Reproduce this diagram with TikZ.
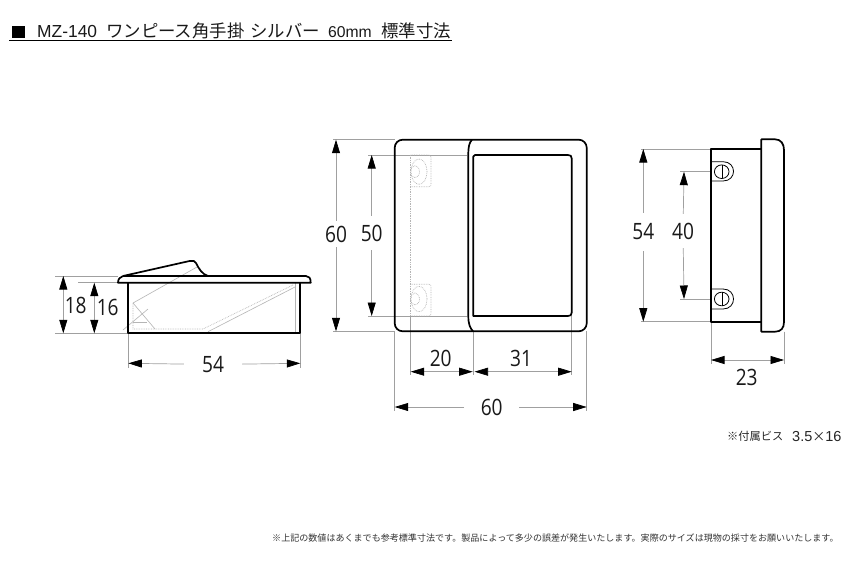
\documentclass[tikz,border=0pt]{standalone}
\usepackage{fontspec}
\usetikzlibrary{arrows.meta}
\newfontfamily\jpfont{Noto Sans CJK JP}
\newfontfamily\latinfont{Liberation Sans}
\newfontfamily\dimfont[FakeStretch=0.85]{Open Sans}
\definecolor{extgray}{HTML}{A0A0A0}
\definecolor{hidgray}{HTML}{B5B5B5}
\tikzset{
  outline/.style={draw=black,line width=1.7pt,line join=round},
  thinout/.style={draw=black,line width=0.8pt},
  extline/.style={draw=extgray,line width=0.7pt},
  hidline/.style={draw=hidgray,line width=0.7pt,densely dotted},
  hidthin/.style={draw=hidgray,line width=0.6pt},
  dimarrow/.style={draw=extgray,line width=0.7pt,
    -{Triangle[length=13.5pt,width=8pt,color=black]}},
  dimboth/.style={draw=extgray,line width=0.7pt,
    {Triangle[length=13.5pt,width=8pt,color=black]}-{Triangle[length=13.5pt,width=8pt,color=black]}},
  dimlabel/.style={inner sep=0pt,text=black!90,font=\dimfont\fontsize{22.5}{22.5}\selectfont},
  heading/.style={inner sep=0pt,anchor=base west,text=black!90,font=\jpfont\fontsize{17.4}{18}\selectfont},
}
\begin{document}
\begin{tikzpicture}[x=1pt,y=-1pt]
\useasboundingbox[fill=white] (0,0) rectangle (850,567);

% ---------- heading
\fill[black] (12,26.5) rectangle (25,38.5);
\node[heading] (tA) at (37,37.5) {\latinfont MZ-140};
\node[heading] (tB) at (106,37.5) {ワンピース角手掛};
\node[heading] (tC) at (250,37.5) {シルバー};
\node[heading] (tD) at (328,37.5) {\latinfont\fontsize{15.7}{16}\selectfont 60mm};
\node[heading] (tE) at (381,37.5) {標準寸法};
\draw[black,line width=1pt] (9,40.5) -- (452,40.5);

% ---------- side view: hidden lines
\draw[hidline] (133,303) -- (133,329) -- (203,329) -- (293,285);
\draw[hidthin] (208,331.7) -- (295,287);
\draw[hidthin] (133,303) -- (197,267);
\draw[hidthin] (133,303) -- (155,329);
\draw[hidthin] (123,330) -- (148,309);
\draw[hidthin] (133,322) -- (147,322);
\draw[hidthin] (295,283) -- (295,333);

% side view: dimensions
\coordinate (a18t) at (63.3,276);
\coordinate (a18b) at (63.3,333.3);
\coordinate (a16t) at (94.3,282.7);
\coordinate (a16b) at (94.3,333.3);
\coordinate (a54l) at (128.3,363.3);
\coordinate (a54r) at (300.3,363.3);
\draw[extline] (55,276) -- (118,276);
\draw[extline] (78,282.7) -- (118,282.7);
\draw[extline] (55,333.3) -- (128.3,333.3);
\draw[extline] (128.3,333.3) -- (128.3,368);
\draw[extline] (300.3,333.3) -- (300.3,368);
\draw[dimboth] (a18t) -- (a18b);
\draw[dimboth] (a16t) -- (a16b);
\node[dimlabel] (l18) at (75.7,305) {18};
\node[dimlabel] (l16) at (107.7,307.5) {16};
\node[dimlabel,minimum width=58pt] (l54) at (213,364.5) {54};
\draw[dimarrow] (l54) -- (a54l);
\draw[dimarrow] (l54) -- (a54r);

% side view: outline
\draw[outline] (128.3,282.7) -- (128.3,333.3) -- (300.3,333.3) -- (300.3,282.7);
\draw[outline] (123,276) -- (306,276) .. controls (309,276) and (310.7,278) .. (310.7,282.7)
  -- (118,282.7) .. controls (118,279) and (120,277) .. (123,276);
\draw[outline] (123,276) -- (190,260.9) .. controls (193,260.2) and (195,261) .. (196,263)
  .. controls (199,269) and (202,274) .. (208,276);

% ---------- front view: hidden lines
\draw[extline] (368,155) -- (467,155);
\draw[extline] (368,316) -- (467,316);
\draw[hidline] (410.7,155) -- (410.7,316);
\draw[hidline,rounded corners=2pt] (410.7,155) -- (431,155) -- (431,186.7) -- (410.7,186.7);
\draw[hidline,rounded corners=2pt] (410.7,284.3) -- (431,284.3) -- (431,316) -- (410.7,316);
\draw[hidline] (419,171.7) ellipse [x radius=8,y radius=12.7];
\draw[hidline] (415,171.7) ellipse [x radius=4.5,y radius=6];
\draw[hidline] (419,299) ellipse [x radius=8,y radius=12.7];
\draw[hidline] (415,299) ellipse [x radius=4.5,y radius=6];

% front view: dimensions
\coordinate (b60t) at (336,139.7);
\coordinate (b60b) at (336,331.3);
\coordinate (b50t) at (371.7,155);
\coordinate (b50b) at (371.7,316);
\coordinate (b20l) at (410.7,371.7);
\coordinate (b20r) at (472.7,371.7);
\coordinate (b31l) at (474.5,371.7);
\coordinate (b31r) at (571.7,371.7);
\coordinate (b60l) at (394.7,407);
\coordinate (b60r) at (586.7,407);
\draw[extline] (333,139.7) -- (395,139.7);
\draw[extline] (333,331.3) -- (395,331.3);
\draw[extline] (394.7,331.3) -- (394.7,411);
\draw[extline] (586.7,331.3) -- (586.7,411);
\draw[extline] (410.7,316) -- (410.7,375);
\draw[extline] (473.3,331.3) -- (473.3,375);
\draw[extline] (571.7,316) -- (571.7,375);
\node[dimlabel,minimum height=26pt] (l60v) at (336,234) {60};
\node[dimlabel,minimum height=34pt] (l50) at (371.7,233) {50};
\draw[dimarrow] (l60v) -- (b60t);
\draw[dimarrow] (l60v) -- (b60b);
\draw[dimarrow] (l50) -- (b50t);
\draw[dimarrow] (l50) -- (b50b);
\draw[dimboth] (b20l) -- (b20r);
\draw[dimboth] (b31l) -- (b31r);
\node[dimlabel] (l20) at (440.7,358) {20};
\node[dimlabel] (l31) at (521,358) {31};
\node[dimlabel,minimum width=55pt] (l60h) at (491.7,407) {60};
\draw[dimarrow] (l60h) -- (b60l);
\draw[dimarrow] (l60h) -- (b60r);

% front view: outline
\draw[outline,rounded corners=8pt] (394.7,139.7) rectangle (586.7,331.3);
\draw[outline] (472,139.7) .. controls (469,143) and (468.3,147) .. (468.3,155)
  -- (468.3,316) .. controls (468.3,324) and (470,328) .. (473,331.3);
\draw[outline] (473.3,156.5) -- (475,155) -- (568,155)
  .. controls (570.5,155) and (571.7,156) .. (571.7,158.5) -- (571.7,312.5)
  .. controls (571.7,315) and (570.5,316) .. (568,316) -- (473.3,316) -- cycle;

% ---------- right view: dimensions
\coordinate (c54t) at (643.3,149);
\coordinate (c54b) at (643.3,321.7);
\coordinate (c40t) at (684,171.7);
\coordinate (c40b) at (684,299);
\coordinate (c23l) at (711,360);
\coordinate (c23r) at (784,360);
\draw[extline] (641,149) -- (711,149);
\draw[extline] (641,321.7) -- (711,321.7);
\draw[extline] (680,171.7) -- (711,171.7);
\draw[extline] (680,299) -- (711,299);
\draw[extline] (711,321.7) -- (711,364);
\draw[extline] (784,331.7) -- (784,364);
\node[dimlabel,minimum height=38pt] (l54v) at (643.3,232) {54};
\node[dimlabel,minimum height=34pt] (l40) at (683,231) {40};
\draw[dimarrow] (l54v) -- (c54t);
\draw[dimarrow] (l54v) -- (c54b);
\draw[dimarrow] (l40) -- (c40t);
\draw[dimarrow] (l40) -- (c40b);
\draw[dimboth] (c23l) -- (c23r);
\node[dimlabel] (l23) at (746.7,377.3) {23};

% right view: outline
\draw[outline] (761.3,149) -- (711,149) -- (711,321.7) -- (761.3,321.7);
\draw[outline] (761.3,139.3) -- (775,139.3) .. controls (781,139.3) and (784,144) .. (784,150)
  -- (784,322) .. controls (784,328) and (781,331.7) .. (775,331.7) -- (761.3,331.7) -- cycle;
% screw lugs
\draw[thinout] (711,161.7) -- (723,161.7) .. controls (737,161.7) and (737,181) .. (723,181) -- (711,181);
\draw[thinout] (721.7,171.7) ellipse [x radius=7.3,y radius=6.8];
\draw[thinout] (722.7,165) -- (722.7,178.4);
\draw[thinout] (711,289) -- (723,289) .. controls (737,289) and (737,309) .. (723,309) -- (711,309);
\draw[thinout] (721.7,299) ellipse [x radius=7.3,y radius=6.8];
\draw[thinout] (722.7,292.3) -- (722.7,305.7);

% ---------- notes
\node[inner sep=0pt,anchor=west,text=black!85,font=\jpfont\fontsize{11.2}{12}\selectfont] (n1) at (727,436.5) {※付属ビス};
\node[inner sep=0pt,anchor=west,text=black!85,font=\latinfont\fontsize{14.5}{14.5}\selectfont] (n2) at (792,436.5) {3.5{\jpfont\fontsize{13}{13}\selectfont ×}16};
\node[inner sep=0pt,anchor=west,text=black!80,font=\jpfont\fontsize{9.05}{10}\selectfont] (n3) at (272,538) {※上記の数値はあくまでも参考標準寸法です。製品によって多少の誤差が発生いたします。実際のサイズは現物の採寸をお願いいたします。};
\end{tikzpicture}
\end{document}
